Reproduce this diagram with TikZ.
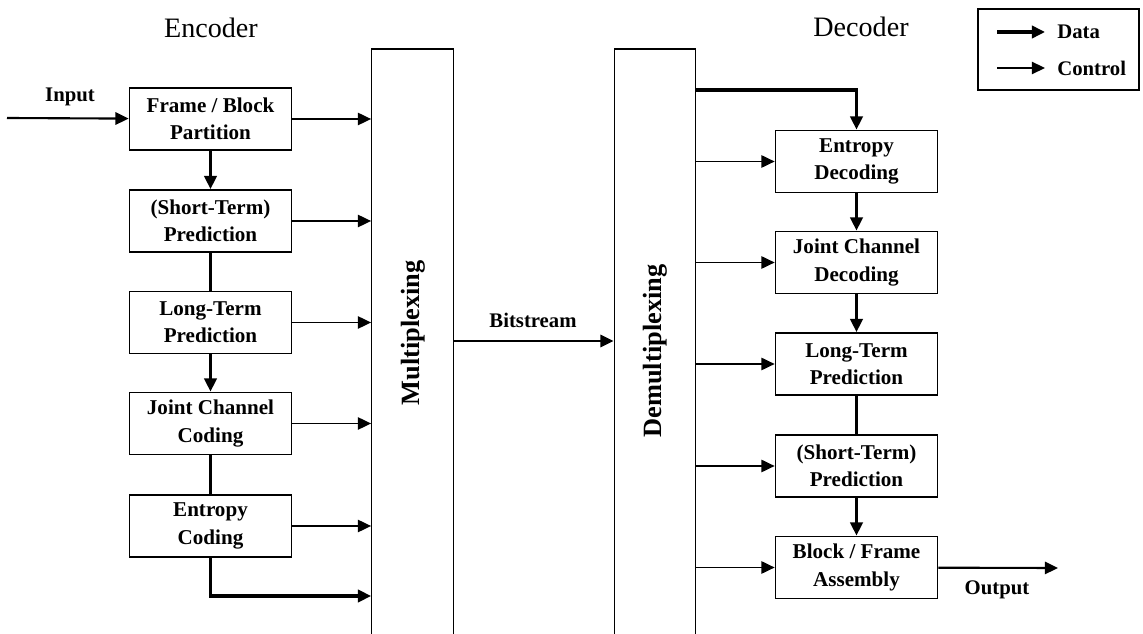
\documentclass[tikz,border=0pt]{standalone}
\usepackage{fontspec}
\setmainfont{Liberation Serif}
\usetikzlibrary{arrows.meta}
\tikzset{
	stage/.style={draw, line width=1pt, minimum width=3.24cm, minimum height=1.24cm, inner sep=0pt, align=center, font=\bfseries\fontsize{12}{15.5}\selectfont},
	plex/.style={draw, line width=0.75pt, minimum width=1.63cm, minimum height=12.22cm, inner sep=0pt},
	plextext/.style={rotate=90, font=\bfseries\fontsize{15}{18}\selectfont},
	title/.style={font=\fontsize{16}{19}\selectfont},
	lbl/.style={font=\bfseries\fontsize{11.8}{14}\selectfont, inner sep=0pt},
	data/.style={line width=1.8pt, -{Triangle[length=7.5pt,width=7pt]}},
	link/.style={line width=1.4pt},
	control/.style={line width=0.9pt, -{Triangle[length=7.5pt,width=7pt]}},
	flow/.style={line width=1.2pt, -{Triangle[length=7.5pt,width=7pt]}}
}
\begin{document}
\begin{tikzpicture}[x=0.02cm, y=-0.02cm]
			\useasboundingbox (0,0) rectangle (1143,634);
			\clip (0,0) rectangle (1143,634);
			\node[title] (enc) at (211,28) {Encoder};
			\node[title] (dec) at (861,27) {Decoder};
			\node[stage] (ec1) at (210.5,119) {Frame / Block\\Partition};
			\node[stage] (ec2) at (210.5,221) {(Short-Term)\\Prediction};
			\node[stage] (ec3) at (210.5,322.5) {Long-Term\\Prediction};
			\node[stage] (ec4) at (210.5,423.5) {Joint Channel\\Coding};
			\node[stage] (ec5) at (210.5,526) {Entropy\\Coding};
			\node[stage] (dc1) at (856.5,161.5) {Entropy\\Decoding};
			\node[stage] (dc2) at (856.5,262.5) {Joint Channel\\Decoding};
			\node[stage] (dc3) at (856.5,364) {Long-Term\\Prediction};
			\node[stage] (dc4) at (856.5,466) {(Short-Term)\\Prediction};
			\node[stage] (dc5) at (856.5,567.5) {Block / Frame\\Assembly};
			\node[plex] (mux) at (412.5,354.5) {};
			\node[plex] (dmx) at (655,354.5) {};
			\node[plextext] (muxtext) at (413,333) {Multiplexing};
			\node[plextext] (dmxtext) at (655,351) {Demultiplexing};
			\coordinate (in) at (7,118);
			\coordinate (m6) at (0,596);
			\coordinate (bs) at (0,341);
			\coordinate (dtop) at (0,90);
			\coordinate (out) at (1058,568);
			\draw[flow] (in) -- (ec1);
			\node[lbl] (inlbl) at (70,97) {Input};
			\draw[data] (ec1) -- (ec2);
			\draw[link] (ec2) -- (ec3);
			\draw[data] (ec3) -- (ec4);
			\draw[link] (ec4) -- (ec5);
			\foreach \i in {1,...,5}
				\draw[control] (ec\i.east) -- (ec\i.east -| mux.west);
			\draw[data] (ec5.south) |- (mux.west |- m6);
			\draw[flow] (mux.east |- bs) -- (dmx.west |- bs);
			\node[lbl] (bslbl) at (533,320) {Bitstream};
			\draw[data] (dmx.east |- dtop) -| (dc1.north);
			\foreach \i in {1,...,5}
				\draw[control] (dmx.east |- dc\i.west) -- (dc\i.west);
			\draw[data] (dc1) -- (dc2);
			\draw[data] (dc2) -- (dc3);
			\draw[link] (dc3) -- (dc4);
			\draw[data] (dc4) -- (dc5);
			\draw[flow] (dc5) -- (out);
			\node[lbl] (outlbl) at (997,590) {Output};
			\node[draw, line width=0.9pt, minimum width=3.22cm, minimum height=1.62cm, inner sep=0pt] (legend) at (1058.5,49.5) {};
			\coordinate (ld1) at (997,32);
			\coordinate (ld2) at (1045,32);
			\coordinate (lc1) at (997,68);
			\coordinate (lc2) at (1045,68);
			\draw[data] (ld1) -- (ld2);
			\draw[control] (lc1) -- (lc2);
			\node[lbl, anchor=west] (ldata) at (1057,32) {Data};
			\node[lbl, anchor=west] (lctrl) at (1057,68) {Control};
		\end{tikzpicture}
\end{document}
